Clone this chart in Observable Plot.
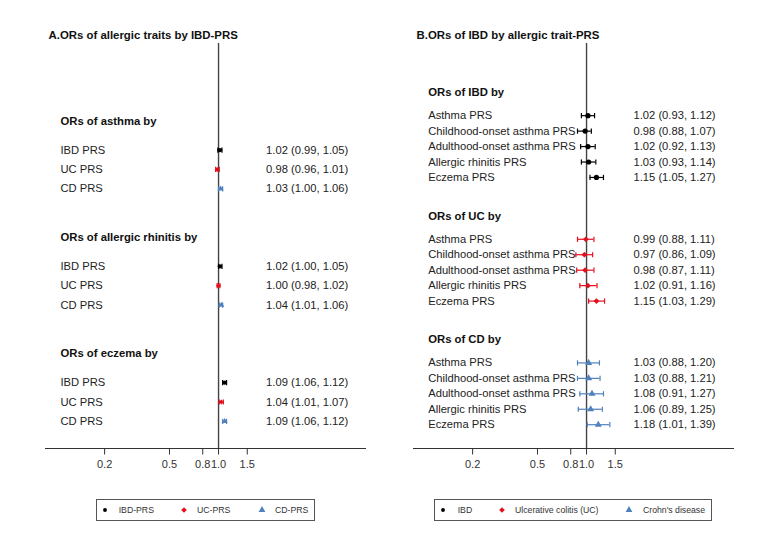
<!DOCTYPE html>
<html><head><meta charset="utf-8">
<script src="https://cdn.jsdelivr.net/npm/d3@7"></script>
<script src="https://cdn.jsdelivr.net/npm/@observablehq/plot@0.6"></script>
<style>
body{margin:0;background:#fff;font-family:"Liberation Sans",Arial,sans-serif;}
#page{position:relative;width:760px;height:552px;overflow:hidden;background:#fff}
.panel{position:absolute;top:0;width:380px;height:552px}
.panel svg{display:block}
.legend{position:absolute;top:499px;height:22px;border:1px solid #555;box-sizing:border-box;font-size:8.7px;color:#333}
.legend .sym{position:absolute;top:5px}
.legend .lab{position:absolute;top:0;line-height:20px;white-space:nowrap}
</style></head>
<body><div id="page"><div class="panel" id="pa" style="left:0"></div><div class="panel" id="pb" style="left:380px"></div></div>
<script>
// ---- shared axis ----
const ticks = [0.2, 0.5, 0.8, 1.0, 1.5];
const tickLabels = ["0.2", "0.5", "0.8", "1.0", "1.5"];
const seriesColors = ["#000000", "#e3101c", "#4f81bd"];
const seriesSymbols = ["circle", "diamond2", "triangle"];

// ---- Panel A ----
const aTitle = "A.ORs of allergic traits by IBD-PRS";
const aGroups = ["ORs of asthma by", "ORs of allergic rhinitis by", "ORs of eczema by"];
const aRows = ["IBD PRS", "UC PRS", "CD PRS"];
const aSeries = ["IBD-PRS", "UC-PRS", "CD-PRS"];
const aOR = [[1.02, 0.98, 1.03], [1.02, 1.00, 1.04], [1.09, 1.04, 1.09]];
const aLo = [[0.99, 0.96, 1.00], [1.00, 0.98, 1.01], [1.06, 1.01, 1.06]];
const aHi = [[1.05, 1.01, 1.06], [1.05, 1.02, 1.06], [1.12, 1.07, 1.12]];

// ---- Panel B ----
const bTitle = "B.ORs of IBD by allergic trait-PRS";
const bGroups = ["ORs of IBD by", "ORs of UC by", "ORs of CD by"];
const bRows = ["Asthma PRS", "Childhood-onset asthma PRS", "Adulthood-onset asthma PRS", "Allergic rhinitis PRS", "Eczema PRS"];
const bSeries = ["IBD", "Ulcerative colitis (UC)", "Crohn's disease"];
const bOR = [[1.02, 0.98, 1.02, 1.03, 1.15], [0.99, 0.97, 0.98, 1.02, 1.15], [1.03, 1.03, 1.08, 1.06, 1.18]];
const bLo = [[0.93, 0.88, 0.92, 0.93, 1.05], [0.88, 0.86, 0.87, 0.91, 1.03], [0.88, 0.88, 0.91, 0.89, 1.01]];
const bHi = [[1.12, 1.07, 1.13, 1.14, 1.27], [1.11, 1.09, 1.11, 1.16, 1.29], [1.20, 1.21, 1.27, 1.25, 1.39]];

const fmt = d3.format(".2f");
function build(groups, rowNames, OR, LO, HI, seriesOf, step) {
  const headers = [], rows = [];
  groups.forEach((g, gi) => {
    headers.push({pos: gi * step, text: g});
    rowNames.forEach((r, ri) => {
      const s = seriesOf(gi, ri);
      rows.push({pos: gi * step + 1.5 + ri, label: r, or: OR[gi][ri], lo: LO[gi][ri], hi: HI[gi][ri], s,
        color: seriesColors[s], value: `${fmt(OR[gi][ri])} (${fmt(LO[gi][ri])}, ${fmt(HI[gi][ri])})`});
    });
  });
  return {headers, rows};
}

const capSymbol = {draw(ctx, size) { const r = Math.sqrt(size / Math.PI); ctx.moveTo(0, -r); ctx.lineTo(0, r); }};
const tickSymbol = {draw(ctx) { ctx.moveTo(0, 0); ctx.lineTo(0, 6); }};
const tickText = d => { const i = ticks.findIndex(t => Math.abs(t - d) < 1e-6); return i >= 0 ? tickLabels[i] : ""; };

function panel({title, data, marginLeft, marginRight, yDomain, labelDx, valueDx, markR}) {
  const {headers, rows} = data;
  return Plot.plot({
    width: 380, height: 480, marginTop: 43, marginBottom: 32, marginLeft, marginRight,
    style: {fontFamily: "'Liberation Sans', Arial, sans-serif", fontSize: "11.2px", color: "#1a1a1a", background: "transparent", overflow: "visible"},
    x: {type: "log", domain: [0.0868, 7.97], axis: null},
    y: {domain: yDomain, reverse: true, axis: null},
    color: {type: "identity"},
    marks: [
      Plot.ruleX([1], {stroke: "#444", strokeWidth: 1.4}),
      Plot.frame({anchor: "bottom", stroke: "#333"}),
      Plot.dot(ticks, {x: d => d, frameAnchor: "bottom", symbol: tickSymbol, stroke: "#333", fill: "none", strokeWidth: 1}),
      Plot.text(ticks, {x: d => d, text: tickText, frameAnchor: "bottom", lineAnchor: "top", dy: 12, fontSize: 11, fill: "#333"}),
      Plot.text([title], {frameAnchor: "top-left", dx: 3, dy: -8, lineAnchor: "middle", textAnchor: "start", fontWeight: "bold", fontSize: 11.4, fill: "#111"}),
      Plot.text(headers, {y: "pos", text: "text", frameAnchor: "left", dx: labelDx, textAnchor: "start", fontWeight: "bold", fontSize: 11.3, fill: "#111"}),
      Plot.text(rows, {y: "pos", text: "label", frameAnchor: "left", dx: labelDx, textAnchor: "start", fill: "#222"}),
      Plot.text(rows, {y: "pos", text: "value", frameAnchor: "right", dx: valueDx, textAnchor: "start", fill: "#222"}),
      Plot.ruleY(rows, {y: "pos", x1: "lo", x2: "hi", stroke: "color", strokeWidth: 1.2}),
      Plot.dot(rows, {x: "lo", y: "pos", symbol: capSymbol, r: 2.6, stroke: "color", fill: "none", strokeWidth: 1.2}),
      Plot.dot(rows, {x: "hi", y: "pos", symbol: capSymbol, r: 2.6, stroke: "color", fill: "none", strokeWidth: 1.2}),
      ...seriesSymbols.map((sym, si) => Plot.dot(rows.filter(d => d.s === si), {x: "or", y: "pos", symbol: sym, r: markR, fill: seriesColors[si], stroke: "none"}))
    ]
  });
}

const dataA = build(aGroups, aRows, aOR, aLo, aHi, (g, r) => r, 6);
const dataB = build(bGroups, bRows, bOR, bLo, bHi, (g, r) => g, 8);

document.getElementById("pa").appendChild(panel({title: aTitle, data: dataA, marginLeft: 45, marginRight: 15, yDomain: [-4, 16.9], labelDx: 15, valueDx: -99.4, markR: 2.2}));
document.getElementById("pb").appendChild(panel({title: bTitle, data: dataB, marginLeft: 33, marginRight: 27, yDomain: [-3.17, 23.04], labelDx: 14.7, valueDx: -100, markR: 2.6}));

function legend(container, names, left, width, symX, labX) {
  const box = d3.select(container).append("div").attr("class", "legend").style("left", left + "px").style("width", width + "px");
  names.forEach((n, i) => {
    const s = box.append("svg").attr("class", "sym").attr("width", 10).attr("height", 10).style("left", (symX[i] - 5) + "px");
    s.append("path").attr("transform", "translate(5,5)")
      .attr("d", d3.symbol(i === 0 ? d3.symbolCircle : i === 1 ? d3.symbolDiamond2 : d3.symbolTriangle, i === 0 ? 12 : 20)())
      .attr("fill", seriesColors[i]);
    box.append("div").attr("class", "lab").style("left", labX[i] + "px").text(n);
  });
}
legend("#pa", aSeries, 96, 219, [8, 86.7, 165], [21.7, 100, 178]);
legend("#pb", bSeries, 54, 278, [8.3, 66.7, 194], [22.7, 80, 208]);
</script>
</body></html>
